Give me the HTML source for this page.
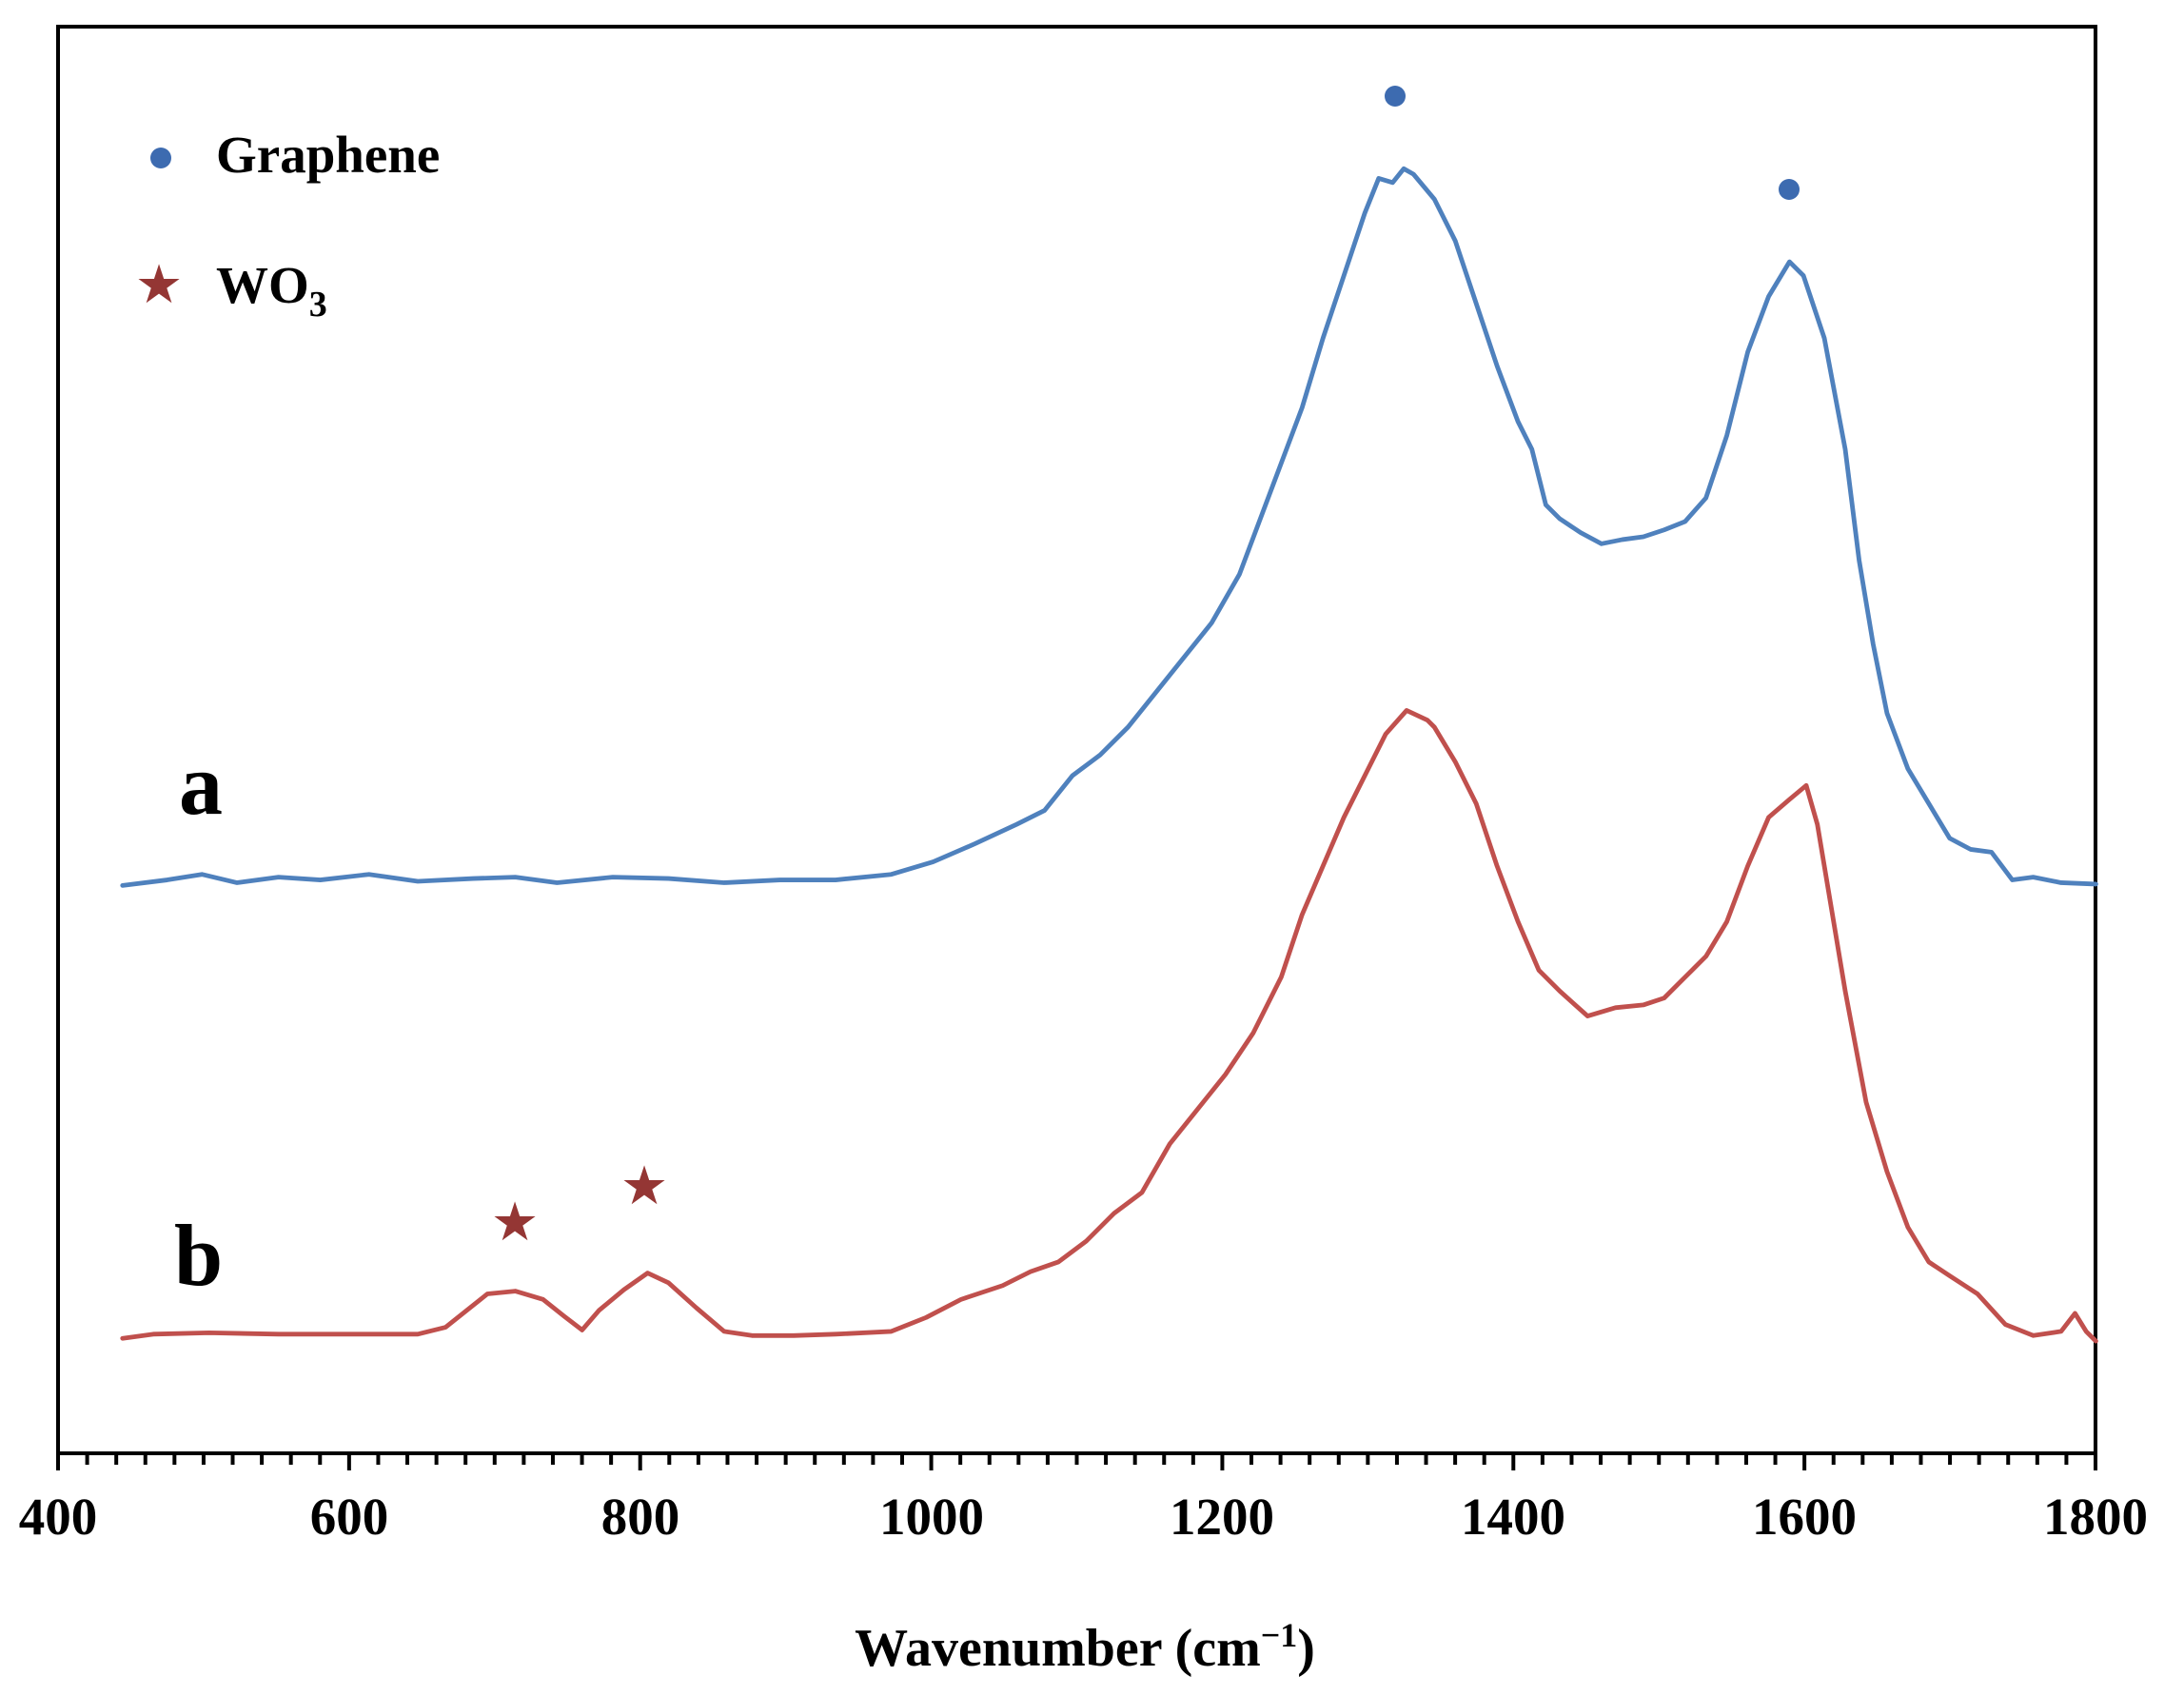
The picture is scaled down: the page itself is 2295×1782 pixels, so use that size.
<!DOCTYPE html>
<html><head><meta charset="utf-8"><style>
html,body{margin:0;padding:0;background:#fff;}
svg{display:block;}
text{font-family:"Liberation Serif",serif;font-weight:bold;fill:#000;}
</style></head><body>
<svg width="2295" height="1782" viewBox="0 0 2295 1782" xmlns="http://www.w3.org/2000/svg">
<rect x="61" y="28" width="2141" height="1499" fill="none" stroke="#000" stroke-width="4"/>
<g stroke="#000" stroke-width="4" id="ticks"></g>
<g font-size="55" text-anchor="middle">
<text x="61" y="1612">400</text><text x="367" y="1612">600</text><text x="673" y="1612">800</text>
<text x="979" y="1612">1000</text><text x="1284" y="1612">1200</text><text x="1590" y="1612">1400</text>
<text x="1896" y="1612">1600</text><text x="2202" y="1612">1800</text>
</g>
<text x="1140" y="1750" font-size="56" text-anchor="middle">Wavenumber (cm<tspan baseline-shift="super" font-size="36">−1</tspan>)</text>
<circle cx="169" cy="166" r="11" fill="#3d6bb0"/>
<text x="227" y="181" font-size="55">Graphene</text>
<text x="167" y="316" font-size="50" text-anchor="middle" style="fill:#943634">★</text>
<text x="227" y="318" font-size="55">WO<tspan font-size="38" dy="14">3</tspan></text>
<text x="188" y="855" font-size="92">a</text>
<text x="183" y="1350" font-size="92">b</text>
<circle cx="1466" cy="101" r="11" fill="#3d6bb0"/>
<circle cx="1880" cy="199" r="11" fill="#3d6bb0"/>
<text x="541" y="1301" font-size="50" text-anchor="middle" style="fill:#943634">★</text>
<text x="677" y="1263" font-size="50" text-anchor="middle" style="fill:#943634">★</text>
<g transform="translate(0,5) scale(1.4634,1.4596)" fill="none" stroke-width="3.3" stroke-linejoin="round" stroke-linecap="round">
<polyline stroke="#4f81bd" points="88,634 120,630 145,626 170,632 200,628 230,630 265,626 300,631 340,629 370,628 400,632 440,628 480,629 520,632 560,630 600,630 640,626 670,617 700,604 730,590 750,580 770,555 790,540 810,520 830,495 850,470 870,445 890,410 905,370 920,330 935,290 950,240 965,195 980,150 990,125 1000,128 1008,118 1015,122 1030,140 1045,170 1060,215 1075,260 1090,300 1100,320 1110,360 1120,370 1135,380 1150,388 1165,385 1180,383 1195,378 1210,372 1225,355 1240,310 1255,250 1270,210 1285,185 1295,195 1310,240 1325,320 1335,400 1345,460 1355,510 1370,550 1385,575 1400,600 1415,608 1430,610 1445,630 1460,628 1480,632 1505,633"/>
<polyline stroke="#c0504d" points="88,960 110,957 150,956 200,957 250,957 300,957 320,952 335,940 350,928 370,926 390,932 405,944 418,954 430,940 448,925 465,913 480,920 500,938 520,955 540,958 570,958 600,957 640,955 665,945 690,932 720,922 740,912 760,905 780,890 800,870 820,855 840,820 860,795 880,770 900,740 920,700 935,655 950,620 965,585 980,555 995,525 1010,508 1025,515 1030,520 1045,545 1060,575 1075,620 1090,660 1105,695 1120,710 1140,728 1160,722 1180,720 1195,715 1210,700 1225,685 1240,660 1255,620 1270,585 1285,572 1297,562 1305,590 1315,650 1325,710 1340,790 1355,840 1370,880 1385,905 1400,915 1420,928 1440,950 1460,958 1480,955 1490,942 1498,955 1505,962"/>
</g>
</svg>
<script>
var g=document.getElementById('ticks'),s='';
for(var i=0;i<=70;i++){var x=61+i*2141/70;var l=(i%10==0)?18:12;
s+='<line x1="'+x+'" y1="1527" x2="'+x+'" y2="'+(1527+l)+'"/>';}
g.innerHTML=s;
</script>
</body></html>
